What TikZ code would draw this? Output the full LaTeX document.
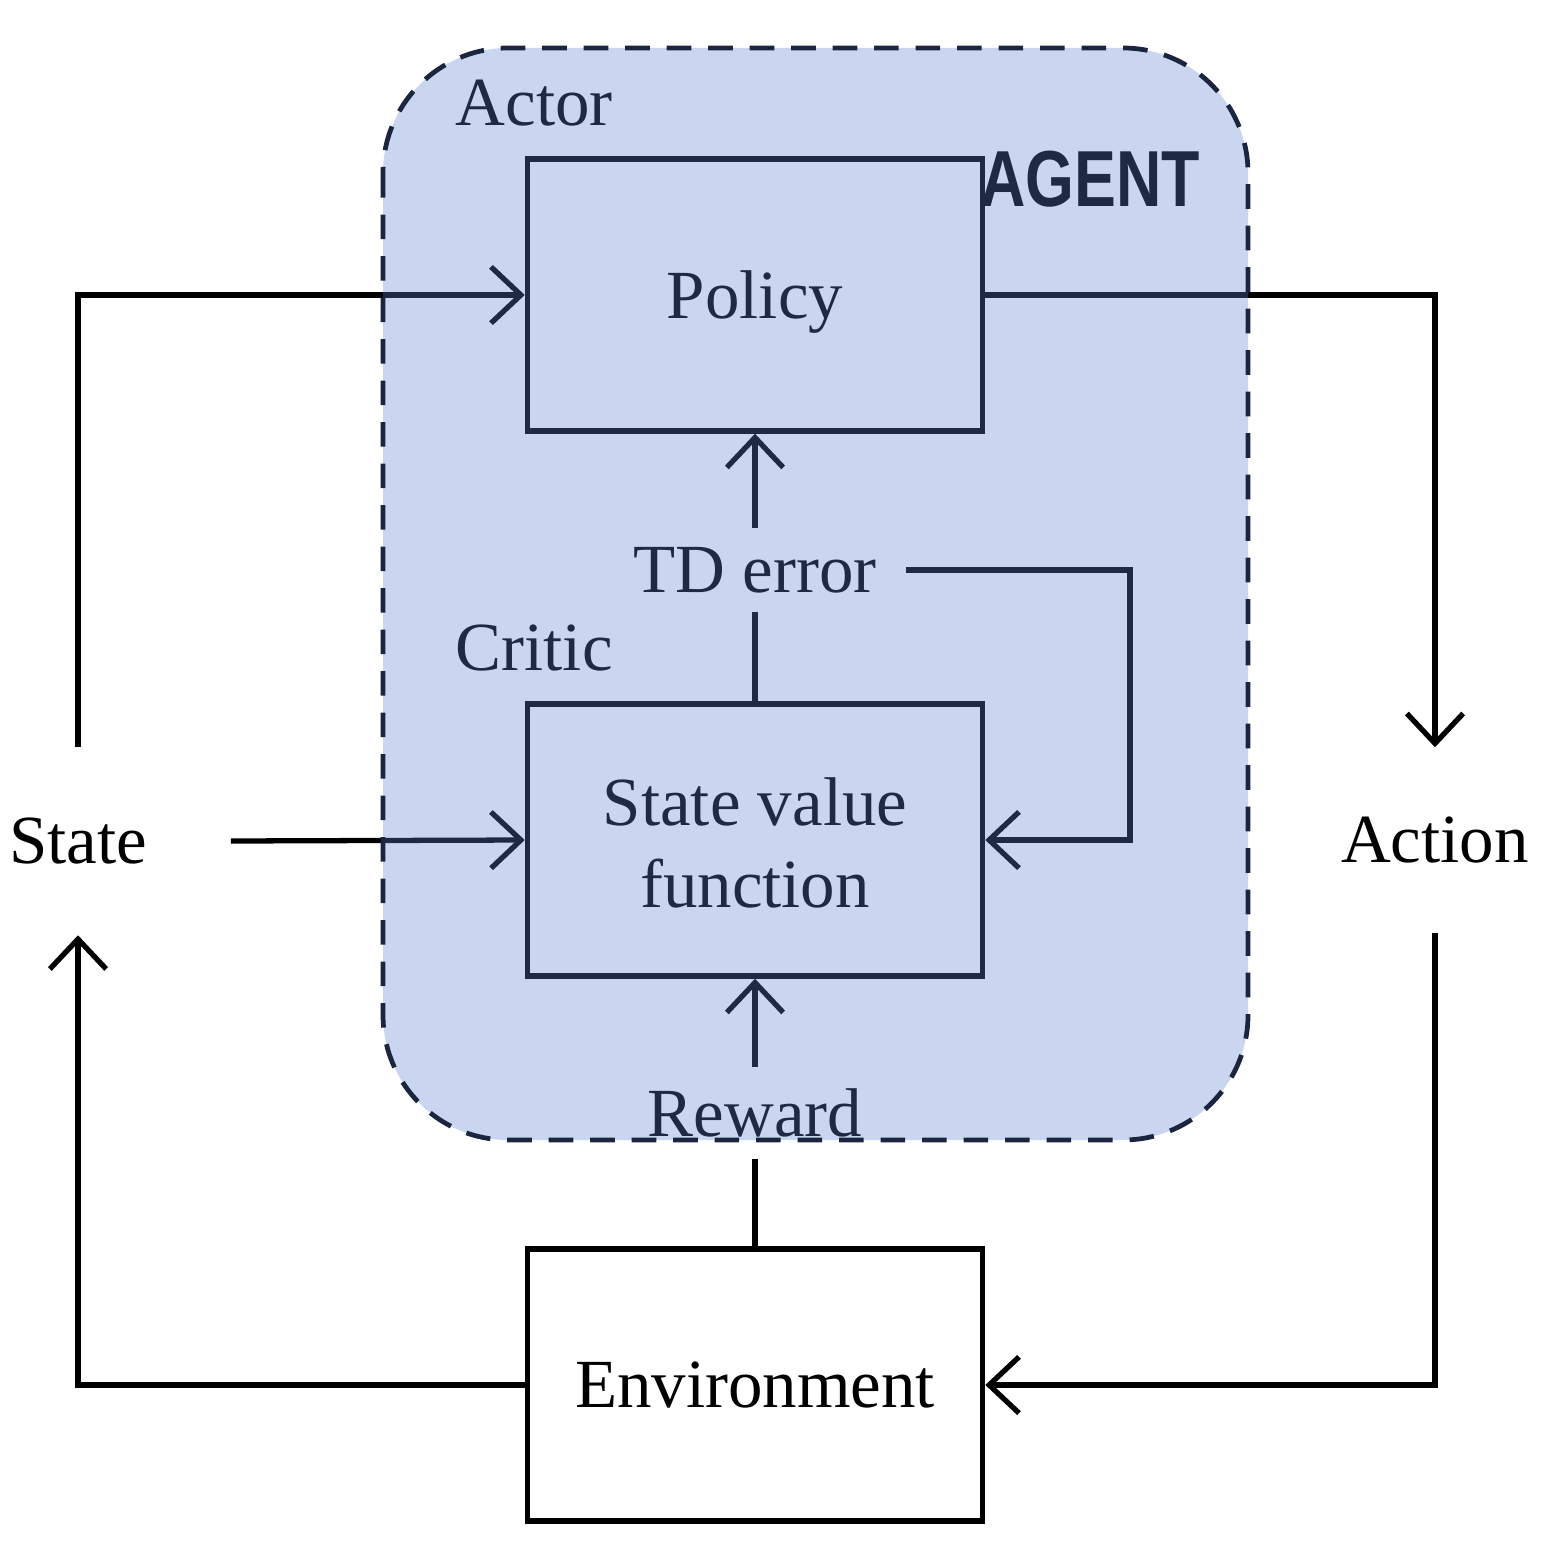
\documentclass[tikz,border=0pt]{standalone}
\usepackage{fontspec}
\setmainfont{Liberation Serif}
\newfontfamily\agentfont{Liberation Sans}
\usetikzlibrary{arrows.meta}
\definecolor{agentblue}{rgb}{0.37,0.50,0.82}
\definecolor{navy}{HTML}{1B2540}
\begin{document}
\begin{tikzpicture}[x=0.01cm,y=-0.01cm,
  every node/.style={font=\fontsize{19.6pt}{23.3pt}\selectfont},
  boxstyle/.style={draw=black,line width=1.5pt,minimum width=4.55cm,minimum height=2.72cm,align=center,inner sep=0pt},
  lbl/.style={inner sep=0pt,align=center},
  conn/.style={draw=black,line width=1.5pt},
  tip/.style={-{Straight Barb[length=8.5pt,width=16pt]}}
]
\useasboundingbox (0,0) rectangle (1558,1561);
% boxes
\node[boxstyle] (policy) at (755,295) {\raisebox{-0.07cm}[\height][\depth]{Policy}};
\node[boxstyle] (svf) at (755,840) {\raisebox{-0.03cm}[\height][\depth]{State value}\\\raisebox{-0.03cm}[\height][\depth]{function}};
\node[boxstyle,fill=white] (env) at (755,1385) {Environment};
% labels
\node[lbl,minimum width=3.04cm,minimum height=1.87cm] (state) at (78,841) {State};
\node[lbl,minimum height=1.84cm] (action) at (1435,840) {Action};
\node[lbl,minimum width=3.0cm,minimum height=0.83cm] (td) at (755,570) {TD error};
\node[lbl,minimum height=0.90cm] (reward) at (755,1113) {Reward};
\node[lbl,anchor=west] (actor) at (455,103) {Actor};
\node[lbl,anchor=west] (critic) at (455,648) {Critic};
\coordinate (tdr) at (1130,570);
% connectors
\draw[conn,tip] (state.north) |- (policy.west);
\draw[conn,tip] (state.east) -- (svf.west);
\draw[conn,tip] (env.west) -| (state.south);
\draw[conn,tip] (policy.east) -| (action.north);
\draw[conn,tip] (action.south) |- (env.east);
\draw[conn] (env.north) -- (reward.south);
\draw[conn,tip] (reward.north) -- (svf.south);
\draw[conn] (svf.north) -- (td.south);
\draw[conn,tip] (td.north) -- (policy.south);
\draw[conn,tip] (td.east) -- (tdr) |- (svf.east);
% AGENT text
\node[lbl] (agent) at (1090,179) {\agentfont\bfseries\fontsize{22.6pt}{22.6pt}\selectfont\scalebox{0.79}[1]{AGENT}};
% translucent agent region
\fill[agentblue,fill opacity=0.33,rounded corners=1.25cm] (383,48) rectangle (1248,1140);
\draw[navy,line width=1.35pt,dash pattern=on 7pt off 4.8pt,rounded corners=1.25cm] (383,48) rectangle (1248,1140);
\end{tikzpicture}
\end{document}
